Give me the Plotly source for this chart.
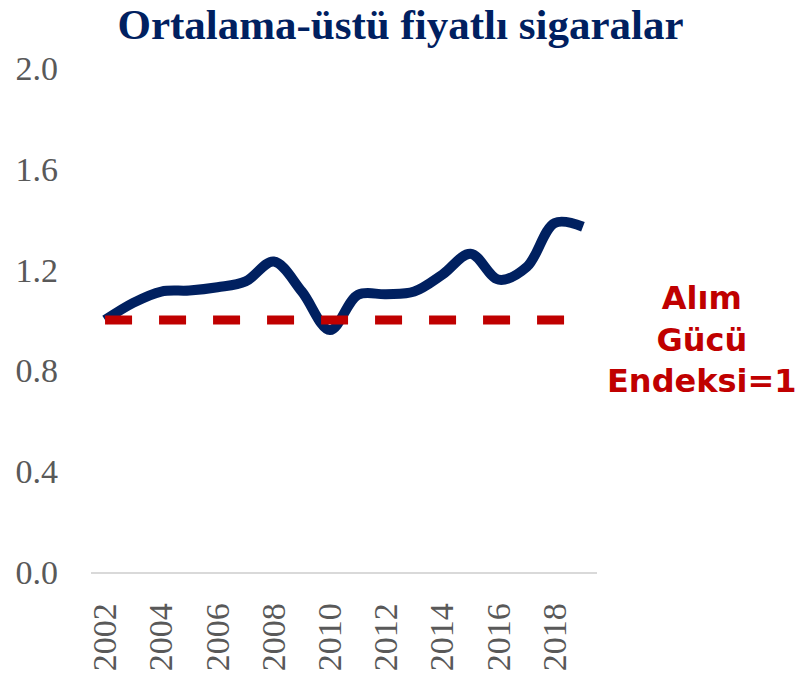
import plotly.graph_objects as go

# Purchasing-power index for above-average priced cigarettes
years = list(range(2002, 2020))
index_values = [1.00, 1.068, 1.113, 1.117, 1.13, 1.153, 1.232, 1.113, 0.96, 1.10,
                1.102, 1.113, 1.18, 1.263, 1.16, 1.21, 1.385, 1.37]
reference_level = [1.0] * len(years)

tick_years = list(range(2002, 2019, 2))
y_ticks = [0.0, 0.4, 0.8, 1.2, 1.6, 2.0]

NAVY = "#002060"
RED = "#C00000"
GREY = "#595959"

fig = go.Figure()

fig.add_trace(go.Scatter(
    x=years, y=index_values, mode="lines",
    line=dict(color=NAVY, width=10, shape="spline", smoothing=1.0),
    hoverinfo="skip", showlegend=False,
))

fig.add_trace(go.Scatter(
    x=years, y=reference_level, mode="lines",
    line=dict(color=RED, width=9, dash="27px,27px"),
    hoverinfo="skip", showlegend=False,
))

fig.update_layout(
    width=802, height=674,
    margin=dict(l=91, r=205, t=68, b=102),
    paper_bgcolor="white", plot_bgcolor="white",
    title=dict(
        text="<b>Ortalama-üstü fiyatlı sigaralar</b>",
        font=dict(family="Liberation Serif", size=43, color=NAVY),
        x=(115 + 686) / 2 / 802, xanchor="center", xref="container",
        y=1 - 24 / 674, yanchor="middle", yref="container",
    ),
    xaxis=dict(
        range=[2001.5, 2019.5],
        tickmode="array", tickvals=tick_years, ticktext=[str(y) for y in tick_years],
        tickangle=-90,
        tickfont=dict(family="Liberation Serif", size=34, color=GREY),
        showgrid=False, zeroline=False,
        showline=True, linecolor="#D9D9D9", linewidth=1.5,
        ticks="", ticklabelstandoff=16, automargin=False,
    ),
    yaxis=dict(
        range=[0, 2.0],
        tickmode="array", tickvals=y_ticks, ticktext=[f"{v:.1f}" for v in y_ticks],
        tickfont=dict(family="Liberation Serif", size=34, color=GREY),
        showgrid=False, zeroline=False, showline=False,
        ticks="", ticklabelstandoff=32, automargin=False,
    ),
    annotations=[dict(
        text="<b>Alım<br>Gücü<br>Endeksi=1</b>",
        xref="paper", yref="paper",
        x=(702 - 91) / 506, y=(572 - 339) / 504,
        xanchor="center", yanchor="middle",
        showarrow=False, align="center",
        font=dict(family="DejaVu Sans", size=32, color=RED),
    )],
)

fig.write_html("out.html")
